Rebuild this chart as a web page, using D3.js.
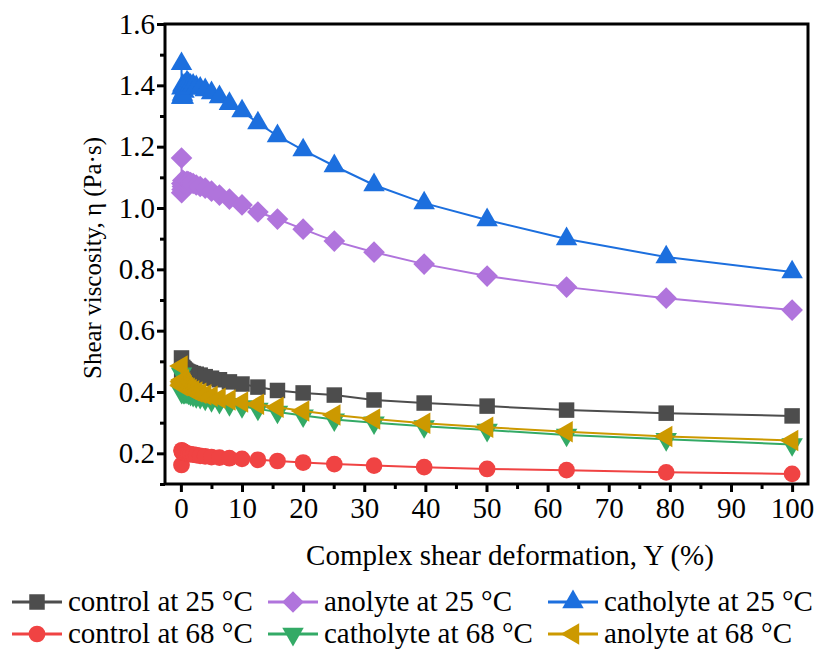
<!DOCTYPE html>
<html>
<head>
<meta charset="utf-8">
<script src="https://cdn.jsdelivr.net/npm/d3@7"></script>
<style>
  body { margin: 0; background: #fff; }
</style>
</head>
<body>
<script>
// strain amplitude (%) - log spaced sweep
const strain = [0.1, 0.126, 0.158, 0.2, 0.251, 0.316, 0.398, 0.501, 0.631, 0.794,
  1, 1.26, 1.58, 2, 2.51, 3.16, 3.98, 5.01, 6.31, 7.94,
  10, 12.6, 15.8, 20, 25.1, 31.6, 39.8, 50.1, 63.1, 79.4, 100];

const control25 = [0.511, 0.47, 0.48, 0.475, 0.47, 0.48, 0.472, 0.476, 0.472, 0.47,
  0.467, 0.465, 0.463, 0.46, 0.458, 0.455, 0.45, 0.445, 0.44, 0.433,
  0.426, 0.416, 0.405, 0.397, 0.39, 0.374, 0.364, 0.354, 0.341, 0.331, 0.322];
const anolyte25 = [1.163, 1.05, 1.08, 1.06, 1.07, 1.09, 1.06, 1.08, 1.085, 1.08,
  1.087, 1.085, 1.083, 1.08, 1.075, 1.07, 1.065, 1.055, 1.042, 1.029,
  1.01, 0.987, 0.964, 0.931, 0.892, 0.856, 0.817, 0.778, 0.742, 0.706, 0.667];
const catholyte25 = [1.47, 1.36, 1.39, 1.36, 1.37, 1.40, 1.36, 1.38, 1.40, 1.39,
  1.41, 1.405, 1.40, 1.40, 1.395, 1.39, 1.385, 1.375, 1.362, 1.34,
  1.316, 1.277, 1.235, 1.189, 1.137, 1.075, 1.016, 0.961, 0.899, 0.84, 0.791];
const control68 = [0.162, 0.21, 0.205, 0.208, 0.204, 0.206, 0.203, 0.205, 0.202, 0.2,
  0.199, 0.198, 0.197, 0.196, 0.194, 0.192, 0.19, 0.188, 0.186, 0.184,
  0.182, 0.179, 0.175, 0.17, 0.165, 0.16, 0.155, 0.149, 0.145, 0.138, 0.133];
const catholyte68 = [0.46, 0.40, 0.42, 0.405, 0.41, 0.42, 0.40, 0.41, 0.40, 0.402,
  0.40, 0.397, 0.393, 0.39, 0.386, 0.383, 0.378, 0.373, 0.367, 0.36,
  0.353, 0.345, 0.335, 0.323, 0.31, 0.30, 0.288, 0.276, 0.26, 0.246, 0.229];
const anolyte68 = [0.485, 0.42, 0.435, 0.425, 0.43, 0.44, 0.42, 0.43, 0.425, 0.42,
  0.415, 0.412, 0.408, 0.404, 0.40, 0.396, 0.391, 0.386, 0.38, 0.374,
  0.367, 0.36, 0.35, 0.338, 0.325, 0.312, 0.298, 0.285, 0.27, 0.255, 0.242];

const seriesNames = ["control at 25 °C", "anolyte at 25 °C", "catholyte at 25 °C",
  "control at 68 °C", "catholyte at 68 °C", "anolyte at 68 °C"];
const seriesValues = [control25, anolyte25, catholyte25, control68, catholyte68, anolyte68];
const colors = ["#4d4d4d", "#b074dc", "#1c6fde", "#f04343", "#33aa66", "#cc9900"];
const shapes = ["square", "diamond", "up", "circle", "down", "left"];

const xTicks = [0, 10, 20, 30, 40, 50, 60, 70, 80, 90, 100];
const yTicks = [0.2, 0.4, 0.6, 0.8, 1.0, 1.2, 1.4, 1.6];

const width = 818, height = 651;
const mLeft = 165, mRight = 808, mTop = 24, mBottom = 484;
const serif = "'Liberation Serif', 'Times New Roman', serif";

const svg = d3.select("body").append("svg")
  .attr("width", width).attr("height", height)
  .style("font-family", serif);

const x = d3.scaleLinear().domain([-2.6, 102.6]).range([mLeft, mRight]);
const y = d3.scaleLinear().domain([0.1, 1.6]).range([mBottom, mTop]);

// symbols
function symbolPath(shape) {
  if (shape == "square") return d3.symbol(d3.symbolSquare, 240)();
  if (shape == "diamond") return d3.symbol(d3.symbolSquare, 235)();
  if (shape == "circle") return d3.symbol(d3.symbolCircle, 220)();
  return d3.symbol(d3.symbolTriangle, 200)();
}
function symbolRotate(shape) {
  if (shape == "diamond") return 45;
  if (shape == "down") return 180;
  if (shape == "left") return -90;
  return 0;
}

const line = d3.line().x(d => x(d[0])).y(d => y(d[1]));

const plot = svg.append("g");
seriesValues.forEach(function(vals, i) {
  const pts = strain.map((s, j) => [s, vals[j]]);
  const g = plot.append("g");
  g.append("path")
    .attr("d", line(pts))
    .attr("fill", "none")
    .attr("stroke", colors[i])
    .attr("stroke-width", 2);
  g.selectAll("path.pt")
    .data(pts)
    .join("path")
    .attr("class", "pt")
    .attr("d", symbolPath(shapes[i]))
    .attr("transform", d => `translate(${x(d[0])},${y(d[1])}) rotate(${symbolRotate(shapes[i])})`)
    .attr("fill", colors[i]);
});

// axes
const xAxis = svg.append("g")
  .attr("transform", `translate(0,${mBottom})`)
  .call(d3.axisBottom(x).tickValues(xTicks).tickSize(8).tickPadding(5).tickFormat(d3.format("d")));
const xMinor = svg.append("g")
  .attr("transform", `translate(0,${mBottom})`)
  .call(d3.axisBottom(x).tickValues(d3.range(5, 100, 10)).tickSize(5).tickFormat(""));
const yAxis = svg.append("g")
  .attr("transform", `translate(${mLeft},0)`)
  .call(d3.axisLeft(y).tickValues(yTicks).tickSize(8).tickPadding(2).tickFormat(d3.format(".1f")));
const yMinor = svg.append("g")
  .attr("transform", `translate(${mLeft},0)`)
  .call(d3.axisLeft(y).tickValues([0.1, 0.3, 0.5, 0.7, 0.9, 1.1, 1.3, 1.5]).tickSize(5).tickFormat(""));

[xAxis, xMinor, yAxis, yMinor].forEach(function(a) {
  a.attr("font-family", null).attr("font-size", null);
  a.select(".domain").remove();
  a.selectAll("line").attr("stroke", "#000").attr("stroke-width", 3);
  a.selectAll("text")
    .style("font-family", serif)
    .style("font-size", "29px").attr("fill", "#000");
});

// frame
svg.append("rect")
  .attr("x", mLeft).attr("y", mTop)
  .attr("width", mRight - mLeft).attr("height", mBottom - mTop)
  .attr("fill", "none").attr("stroke", "#000").attr("stroke-width", 3);

// titles
svg.append("text")
  .attr("x", 510).attr("y", 565)
  .attr("text-anchor", "middle")
  .style("font-family", serif)
  .style("font-size", "29px")
  .text("Complex shear deformation, Y (%)");
svg.append("text")
  .attr("transform", `translate(101,258) rotate(-90)`)
  .attr("text-anchor", "middle")
  .style("font-family", serif)
  .style("font-size", "25px")
  .text("Shear viscosity, η (Pa·s)");

// legend
const legX = [12, 268, 548];
const legY = [602, 634];
seriesNames.forEach(function(name, i) {
  const lx = legX[i % 3], ly = legY[Math.floor(i / 3)];
  const g = svg.append("g");
  g.append("line")
    .attr("x1", lx).attr("x2", lx + 50).attr("y1", ly).attr("y2", ly)
    .attr("stroke", colors[i]).attr("stroke-width", 3);
  g.append("path")
    .attr("d", symbolPath(shapes[i]))
    .attr("transform", `translate(${lx + 25},${ly}) rotate(${symbolRotate(shapes[i])})`)
    .attr("fill", colors[i]);
  g.append("text")
    .attr("x", lx + 56).attr("y", ly + 9)
    .style("font-family", serif)
    .style("font-size", "29px")
    .text(name);
});
</script>
</body>
</html>
